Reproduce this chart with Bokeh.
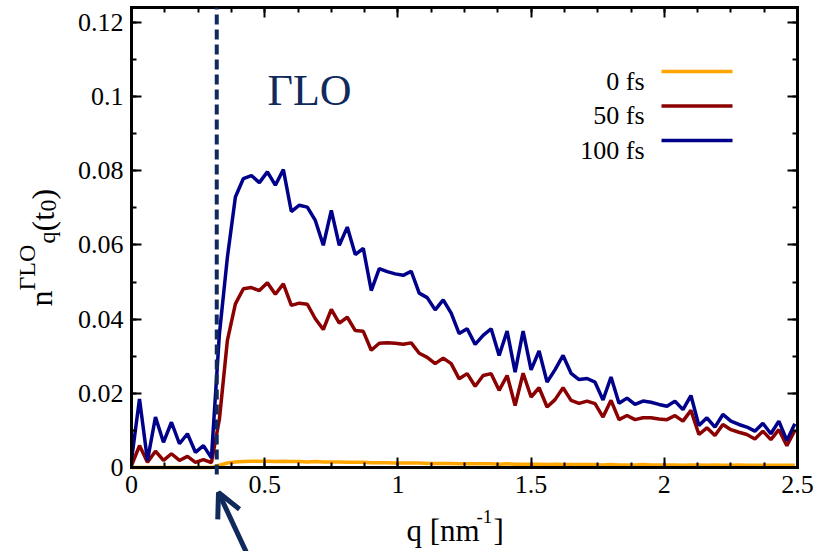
import math
from bokeh.plotting import figure
from bokeh.models import Range1d, LinearAxis, FixedTicker, Label, Arrow, OpenHead
from bokeh.embed import file_html
from bokeh.resources import INLINE

# ---------------- data ----------------
q = [round(0.03 * i, 2) for i in range(84)]

n_0fs = [0.0000, 0.0000, 0.0000, 0.0000, 0.0000, 0.0000, 0.0000, 0.0000, 0.0000, 0.0000, 0.0000,
         0.0006, 0.0012, 0.0015, 0.0016, 0.0017, 0.0017, 0.0017, 0.0016, 0.0017, 0.0016,
         0.0016, 0.0015, 0.0016, 0.0015, 0.0015, 0.0015, 0.0014, 0.0014, 0.0014, 0.0013,
         0.0013, 0.0013, 0.0012, 0.0012, 0.0012, 0.0012, 0.0011, 0.0011, 0.0011, 0.0011,
         0.0010, 0.0010, 0.0010, 0.0010, 0.0010, 0.0009, 0.0010, 0.0009, 0.0009, 0.0009,
         0.0009, 0.0008, 0.0009, 0.0008, 0.0008, 0.0008, 0.0008, 0.0008, 0.0007, 0.0008,
         0.0007, 0.0007, 0.0007, 0.0008, 0.0007, 0.0007, 0.0007, 0.0007, 0.0006, 0.0007,
         0.0007, 0.0006, 0.0007, 0.0006, 0.0006, 0.0007, 0.0006, 0.0006, 0.0006, 0.0006,
         0.0006, 0.0006, 0.0006]

n_50fs = [0.0005, 0.0059, 0.0014, 0.0044, 0.0019, 0.0037, 0.0019, 0.0030, 0.0014, 0.0021, 0.0013,
          0.0130, 0.0343, 0.0441, 0.0482, 0.0485, 0.0477, 0.0498, 0.0467, 0.0495, 0.0437,
          0.0443, 0.0440, 0.0401, 0.0372, 0.0426, 0.0389, 0.0405, 0.0369, 0.0367, 0.0316,
          0.0335, 0.0336, 0.0335, 0.0332, 0.0336, 0.0308, 0.0297, 0.0280, 0.0295, 0.0280,
          0.0239, 0.0253, 0.0219, 0.0248, 0.0253, 0.0208, 0.0248, 0.0167, 0.0254, 0.0190,
          0.0215, 0.0163, 0.0183, 0.0215, 0.0181, 0.0173, 0.0179, 0.0172, 0.0136, 0.0181,
          0.0129, 0.0140, 0.0129, 0.0134, 0.0134, 0.0131, 0.0129, 0.0140, 0.0125, 0.0154,
          0.0089, 0.0107, 0.0086, 0.0116, 0.0102, 0.0095, 0.0089, 0.0077, 0.0098, 0.0075,
          0.0102, 0.0059, 0.0100]

n_100fs = [0.0020, 0.0185, 0.0019, 0.0136, 0.0068, 0.0122, 0.0064, 0.0091, 0.0041, 0.0059, 0.0026,
           0.0360, 0.0567, 0.0729, 0.0779, 0.0787, 0.0768, 0.0797, 0.0761, 0.0803, 0.0690,
           0.0707, 0.0702, 0.0666, 0.0599, 0.0693, 0.0599, 0.0648, 0.0574, 0.0591, 0.0477,
           0.0536, 0.0528, 0.0522, 0.0518, 0.0529, 0.0470, 0.0458, 0.0425, 0.0452, 0.0416,
           0.0361, 0.0374, 0.0332, 0.0356, 0.0374, 0.0302, 0.0368, 0.0257, 0.0368, 0.0263,
           0.0314, 0.0230, 0.0264, 0.0302, 0.0254, 0.0237, 0.0240, 0.0230, 0.0182, 0.0244,
           0.0173, 0.0187, 0.0170, 0.0179, 0.0176, 0.0170, 0.0165, 0.0179, 0.0156, 0.0194,
           0.0113, 0.0134, 0.0109, 0.0143, 0.0125, 0.0116, 0.0109, 0.0098, 0.0119, 0.0091,
           0.0125, 0.0073, 0.0118]

series_names = ["0 fs", "50 fs", "100 fs"]
series_values = [n_0fs, n_50fs, n_100fs]
series_colors = ["#FFA500", "#8B0000", "#00008B"]

x_ticks = [0, 0.5, 1, 1.5, 2, 2.5]
x_tick_labels = ["0", "0.5", "1", "1.5", "2", "2.5"]
x_minor = [0.125 * i for i in range(21)]
y_ticks = [0, 0.02, 0.04, 0.06, 0.08, 0.1, 0.12]
y_tick_labels = ["0", "0.02", "0.04", "0.06", "0.08", "0.1", "0.12"]
y_minor = [0.01 * i for i in range(13)]

q_cut = 0.32
title_text = "\u0393LO"

# ---------------- layout ----------------
W, H = 819, 551
FL, FR, FT, FB = 131, 797, 7, 467   # visual frame edges in px
X0, X1, Y0, Y1 = 0.0, 2.5, 0.0, 0.124
SX = (X1 - X0) / (FR - FL)
SY = (Y1 - Y0) / (FB - FT)
NAVY = "#102a5c"
SERIF = "Liberation Serif"


def dx(px):
    return X0 + (px - FL) * SX


def dy(py):
    return Y0 + (FB - py) * SY


p = figure(width=W, height=H,
           x_range=Range1d(dx(0), dx(W)), y_range=Range1d(dy(H), dy(0)),
           x_axis_location=None, y_axis_location=None,
           output_backend="svg", toolbar_location=None,
           min_border=0, min_border_left=0, min_border_right=0,
           min_border_top=0, min_border_bottom=0)
p.xgrid.visible = False
p.ygrid.visible = False
p.background_fill_color = "white"
p.border_fill_color = "white"
p.outline_line_color = None

xt = FixedTicker(ticks=x_ticks, minor_ticks=x_minor)
yt = FixedTicker(ticks=y_ticks, minor_ticks=y_minor)


def make_axis(ticker, loc, bounds, labels, overrides, standoff):
    ax = LinearAxis(ticker=ticker, fixed_location=loc, bounds=bounds)
    ax.axis_line_width = 3
    ax.axis_line_color = "black"
    ax.axis_line_cap = "square"
    ax.major_tick_in = 10
    ax.major_tick_out = 0
    ax.minor_tick_in = 5
    ax.minor_tick_out = 0
    ax.major_tick_line_width = 2
    ax.minor_tick_line_width = 2
    ax.major_tick_line_color = "black"
    ax.minor_tick_line_color = "black"
    ax.major_label_overrides = overrides
    ax.major_label_standoff = standoff
    ax.major_label_text_font = SERIF
    ax.major_label_text_font_size = "26px"
    if labels:
        ax.major_label_text_color = "black"
    else:
        ax.major_label_text_color = None
    return ax


x_over = {v: s for v, s in zip(x_ticks, x_tick_labels)}
y_over = {v: s for v, s in zip(y_ticks, y_tick_labels)}
p.add_layout(make_axis(xt, Y0, (X0, X1), True, x_over, 8), "below")
p.add_layout(make_axis(yt, X0, (Y0, Y1), True, y_over, 8), "left")
p.add_layout(make_axis(yt, X1, (Y0, Y1), False, y_over, 8), "right")
p.add_layout(make_axis(xt, Y1, (X0, X1), False, x_over, 8), "above")

# ---------------- curves ----------------
for vals, col in zip(series_values, series_colors):
    p.line(q, vals, line_color=col, line_width=3.5)

# dashed marker line
p.add_layout(Arrow(end=None, x_start=q_cut, y_start=dy(474), x_end=q_cut, y_end=Y1,
                   line_color=NAVY, line_width=4, line_dash="10 5"))
# arrow pointing to it below the axis
p.add_layout(Arrow(end=OpenHead(size=24, line_color=NAVY, line_width=5),
                   x_start=dx(252), y_start=dy(565), x_end=dx(218), y_end=dy(492),
                   line_color=NAVY, line_width=5))

# title
p.add_layout(Label(x=dx(267), y=dy(89.5), text=title_text, text_font=SERIF,
                   text_font_size="44px", text_color=NAVY, text_baseline="alphabetic"))

# legend (label left, line right)
for i, (name, col) in enumerate(zip(series_names, series_colors)):
    yl = 71 + 34.5 * i
    p.add_layout(Label(x=dx(644), y=dy(yl + 9.5), text=name, text_font=SERIF,
                       text_font_size="26px", text_color="black",
                       text_align="right", text_baseline="alphabetic"))
    p.line([dx(661), dx(732)], [dy(yl), dy(yl)], line_color=col, line_width=3.5)

# x-axis label  q [nm^-1]
p.add_layout(Label(x=dx(406), y=dy(530), text="q [nm", text_font=SERIF, text_font_size="31px",
                   text_color="black", text_baseline="alphabetic"))
p.add_layout(Label(x=dx(476), y=dy(516), text="-1", text_font=SERIF, text_font_size="19px",
                   text_color="black", text_baseline="alphabetic"))
p.add_layout(Label(x=dx(493), y=dy(530), text="]", text_font=SERIF, text_font_size="31px",
                   text_color="black", text_baseline="alphabetic"))

# y-axis label  n^{ΓLO}_q(t_0), rotated to read upwards
ang = math.pi / 2
ylab = [("n", 40, 306, "32px"), ("\u0393LO", 26, 290, "24px"), ("q", 46, 243, "24px"),
        ("(t", 42, 231, "32px"), ("0", 48, 211, "24px"), (")", 42, 199, "32px")]
for txt, bx, sy, fs in ylab:
    p.add_layout(Label(x=dx(bx), y=dy(sy), text=txt, text_font=SERIF, text_font_size=fs,
                       text_color="black", angle=ang, text_baseline="alphabetic",
                       text_align="left"))

open("out.html", "w").write(file_html(p, INLINE))
